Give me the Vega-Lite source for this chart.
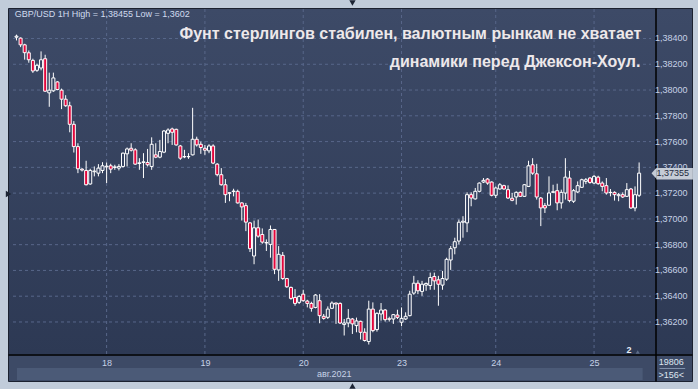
{
  "$schema": "https://vega.github.io/schema/vega-lite/v6.json",
  "width": 684,
  "height": 373,
  "autosize": {"type": "none"},
  "padding": {"left": 8, "top": 8, "right": 6, "bottom": 8},
  "background": "#c1ccda",
  "config": {
    "font": "Liberation Sans",
    "axis": {"labelOverlap": false, "labelFlush": false, "labelBound": false, "grid": false, "ticks": false},
    "view": {
      "stroke": "#1b2130",
      "strokeWidth": 1,
      "fill": {
        "gradient": "linear", "x1": 0, "y1": 0, "x2": 0, "y2": 1,
        "stops": [
          {"offset": 0, "color": "#3d4a67"},
          {"offset": 0.927, "color": "#2d3954"},
          {"offset": 0.928, "color": "#3d4a66"},
          {"offset": 1, "color": "#3d4a66"}
        ]
      }
    }
  },
  "datasets": {
    "bars": [
      {"i":0,"o":1.38410,"h":1.38430,"l":1.38385,"c":1.38418},
      {"i":1,"o":1.38403,"h":1.38408,"l":1.38333,"c":1.38351},
      {"i":2,"o":1.38351,"h":1.38359,"l":1.38236,"c":1.38290},
      {"i":3,"o":1.38289,"h":1.38307,"l":1.38212,"c":1.38235},
      {"i":4,"o":1.38230,"h":1.38243,"l":1.38133,"c":1.38148},
      {"i":5,"o":1.38153,"h":1.38205,"l":1.38141,"c":1.38192},
      {"i":6,"o":1.38171,"h":1.38300,"l":1.38153,"c":1.38235},
      {"i":7,"o":1.38243,"h":1.38274,"l":1.37986,"c":1.37991},
      {"i":8,"o":1.37978,"h":1.38135,"l":1.37870,"c":1.37999},
      {"i":9,"o":1.37994,"h":1.38135,"l":1.37986,"c":1.38094},
      {"i":10,"o":1.38063,"h":1.38068,"l":1.37999,"c":1.38004},
      {"i":11,"o":1.37999,"h":1.38011,"l":1.37852,"c":1.37929},
      {"i":12,"o":1.37929,"h":1.37960,"l":1.37870,"c":1.37878},
      {"i":13,"o":1.37878,"h":1.37909,"l":1.37672,"c":1.37734},
      {"i":14,"o":1.37734,"h":1.37759,"l":1.37515,"c":1.37561},
      {"i":15,"o":1.37561,"h":1.37587,"l":1.37355,"c":1.37389},
      {"i":16,"o":1.37386,"h":1.37394,"l":1.37368,"c":1.37379},
      {"i":17,"o":1.37376,"h":1.37451,"l":1.37260,"c":1.37265},
      {"i":18,"o":1.37271,"h":1.37389,"l":1.37265,"c":1.37376},
      {"i":19,"o":1.37366,"h":1.37407,"l":1.37330,"c":1.37371},
      {"i":20,"o":1.37355,"h":1.37425,"l":1.37330,"c":1.37394},
      {"i":21,"o":1.37376,"h":1.37440,"l":1.37355,"c":1.37412},
      {"i":22,"o":1.37404,"h":1.37438,"l":1.37278,"c":1.37409},
      {"i":23,"o":1.37412,"h":1.37428,"l":1.37355,"c":1.37386},
      {"i":24,"o":1.37399,"h":1.37420,"l":1.37381,"c":1.37404},
      {"i":25,"o":1.37394,"h":1.37425,"l":1.37376,"c":1.37407},
      {"i":26,"o":1.37407,"h":1.37515,"l":1.37399,"c":1.37510},
      {"i":27,"o":1.37505,"h":1.37554,"l":1.37407,"c":1.37543},
      {"i":28,"o":1.37548,"h":1.37587,"l":1.37523,"c":1.37533},
      {"i":29,"o":1.37536,"h":1.37548,"l":1.37420,"c":1.37425},
      {"i":30,"o":1.37430,"h":1.37471,"l":1.37381,"c":1.37435},
      {"i":31,"o":1.37438,"h":1.37510,"l":1.37317,"c":1.37443},
      {"i":32,"o":1.37438,"h":1.37543,"l":1.37407,"c":1.37420},
      {"i":33,"o":1.37407,"h":1.37633,"l":1.37381,"c":1.37579},
      {"i":34,"o":1.37497,"h":1.37587,"l":1.37471,"c":1.37479},
      {"i":35,"o":1.37479,"h":1.37613,"l":1.37471,"c":1.37523},
      {"i":36,"o":1.37518,"h":1.37690,"l":1.37510,"c":1.37682},
      {"i":37,"o":1.37664,"h":1.37703,"l":1.37587,"c":1.37690},
      {"i":38,"o":1.37698,"h":1.37708,"l":1.37574,"c":1.37672},
      {"i":39,"o":1.37695,"h":1.37700,"l":1.37569,"c":1.37574},
      {"i":40,"o":1.37566,"h":1.37574,"l":1.37458,"c":1.37471},
      {"i":41,"o":1.37484,"h":1.37536,"l":1.37471,"c":1.37481},
      {"i":42,"o":1.37484,"h":1.37510,"l":1.37466,"c":1.37482},
      {"i":43,"o":1.37497,"h":1.37862,"l":1.37492,"c":1.37618},
      {"i":44,"o":1.37618,"h":1.37638,"l":1.37561,"c":1.37574},
      {"i":45,"o":1.37579,"h":1.37600,"l":1.37505,"c":1.37554},
      {"i":46,"o":1.37548,"h":1.37574,"l":1.37497,"c":1.37533},
      {"i":47,"o":1.37528,"h":1.37579,"l":1.37510,"c":1.37566},
      {"i":48,"o":1.37566,"h":1.37579,"l":1.37425,"c":1.37433},
      {"i":49,"o":1.37425,"h":1.37433,"l":1.37330,"c":1.37343},
      {"i":50,"o":1.37343,"h":1.37394,"l":1.37258,"c":1.37265},
      {"i":51,"o":1.37265,"h":1.37309,"l":1.37124,"c":1.37188},
      {"i":52,"o":1.37203,"h":1.37206,"l":1.37137,"c":1.37199},
      {"i":53,"o":1.37212,"h":1.37234,"l":1.37175,"c":1.37216},
      {"i":54,"o":1.37214,"h":1.37227,"l":1.37119,"c":1.37124},
      {"i":55,"o":1.37124,"h":1.37129,"l":1.36987,"c":1.37093},
      {"i":56,"o":1.37103,"h":1.37124,"l":1.36905,"c":1.36975},
      {"i":57,"o":1.36969,"h":1.36975,"l":1.36743,"c":1.36769},
      {"i":58,"o":1.36712,"h":1.36987,"l":1.36648,"c":1.36931},
      {"i":59,"o":1.36931,"h":1.36995,"l":1.36854,"c":1.36866},
      {"i":60,"o":1.36879,"h":1.36926,"l":1.36807,"c":1.36820},
      {"i":61,"o":1.36817,"h":1.36841,"l":1.36751,"c":1.36813},
      {"i":62,"o":1.36802,"h":1.36949,"l":1.36699,"c":1.36918},
      {"i":63,"o":1.36918,"h":1.36920,"l":1.36571,"c":1.36609},
      {"i":64,"o":1.36604,"h":1.36789,"l":1.36519,"c":1.36725},
      {"i":65,"o":1.36717,"h":1.36743,"l":1.36527,"c":1.36537},
      {"i":66,"o":1.36537,"h":1.36542,"l":1.36465,"c":1.36473},
      {"i":67,"o":1.36468,"h":1.36475,"l":1.36372,"c":1.36383},
      {"i":68,"o":1.36390,"h":1.36455,"l":1.36326,"c":1.36344},
      {"i":69,"o":1.36352,"h":1.36409,"l":1.36339,"c":1.36398},
      {"i":70,"o":1.36416,"h":1.36450,"l":1.36357,"c":1.36365},
      {"i":71,"o":1.36362,"h":1.36372,"l":1.36313,"c":1.36344},
      {"i":72,"o":1.36344,"h":1.36357,"l":1.36280,"c":1.36306},
      {"i":73,"o":1.36313,"h":1.36416,"l":1.36306,"c":1.36409},
      {"i":74,"o":1.36365,"h":1.36416,"l":1.36190,"c":1.36249},
      {"i":75,"o":1.36244,"h":1.36262,"l":1.36218,"c":1.36228},
      {"i":76,"o":1.36236,"h":1.36321,"l":1.36223,"c":1.36300},
      {"i":77,"o":1.36306,"h":1.36360,"l":1.36300,"c":1.36347},
      {"i":78,"o":1.36347,"h":1.36350,"l":1.36185,"c":1.36339},
      {"i":79,"o":1.36344,"h":1.36352,"l":1.36185,"c":1.36192},
      {"i":80,"o":1.36180,"h":1.36223,"l":1.36095,"c":1.36192},
      {"i":81,"o":1.36192,"h":1.36300,"l":1.36159,"c":1.36228},
      {"i":82,"o":1.36223,"h":1.36231,"l":1.36107,"c":1.36185},
      {"i":83,"o":1.36172,"h":1.36234,"l":1.36120,"c":1.36208},
      {"i":84,"o":1.36205,"h":1.36210,"l":1.36064,"c":1.36120},
      {"i":85,"o":1.36120,"h":1.36151,"l":1.36048,"c":1.36056},
      {"i":86,"o":1.36048,"h":1.36365,"l":1.36025,"c":1.36300},
      {"i":87,"o":1.36300,"h":1.36352,"l":1.36120,"c":1.36133},
      {"i":88,"o":1.36141,"h":1.36275,"l":1.36125,"c":1.36267},
      {"i":89,"o":1.36262,"h":1.36347,"l":1.36210,"c":1.36293},
      {"i":90,"o":1.36293,"h":1.36300,"l":1.36203,"c":1.36218},
      {"i":91,"o":1.36225,"h":1.36241,"l":1.36203,"c":1.36221},
      {"i":92,"o":1.36223,"h":1.36262,"l":1.36185,"c":1.36257},
      {"i":93,"o":1.36254,"h":1.36295,"l":1.36223,"c":1.36236},
      {"i":94,"o":1.36198,"h":1.36313,"l":1.36167,"c":1.36228},
      {"i":95,"o":1.36223,"h":1.36275,"l":1.36216,"c":1.36244},
      {"i":96,"o":1.36249,"h":1.36442,"l":1.36244,"c":1.36416},
      {"i":97,"o":1.36424,"h":1.36558,"l":1.36411,"c":1.36501},
      {"i":98,"o":1.36501,"h":1.36524,"l":1.36416,"c":1.36442},
      {"i":99,"o":1.36437,"h":1.36519,"l":1.36403,"c":1.36493},
      {"i":100,"o":1.36486,"h":1.36506,"l":1.36442,"c":1.36499},
      {"i":101,"o":1.36483,"h":1.36583,"l":1.36450,"c":1.36545},
      {"i":102,"o":1.36553,"h":1.36583,"l":1.36450,"c":1.36519},
      {"i":103,"o":1.36527,"h":1.36558,"l":1.36326,"c":1.36493},
      {"i":104,"o":1.36486,"h":1.36596,"l":1.36450,"c":1.36537},
      {"i":105,"o":1.36532,"h":1.36699,"l":1.36519,"c":1.36686},
      {"i":106,"o":1.36681,"h":1.36789,"l":1.36604,"c":1.36769},
      {"i":107,"o":1.36776,"h":1.36854,"l":1.36725,"c":1.36823},
      {"i":108,"o":1.36828,"h":1.36995,"l":1.36802,"c":1.36974},
      {"i":109,"o":1.36974,"h":1.37021,"l":1.36854,"c":1.36982},
      {"i":110,"o":1.36969,"h":1.37206,"l":1.36897,"c":1.37188},
      {"i":111,"o":1.37188,"h":1.37206,"l":1.37098,"c":1.37162},
      {"i":112,"o":1.37155,"h":1.37240,"l":1.37150,"c":1.37214},
      {"i":113,"o":1.37214,"h":1.37283,"l":1.37206,"c":1.37278},
      {"i":114,"o":1.37286,"h":1.37317,"l":1.37278,"c":1.37299},
      {"i":115,"o":1.37309,"h":1.37317,"l":1.37265,"c":1.37278},
      {"i":116,"o":1.37286,"h":1.37291,"l":1.37175,"c":1.37183},
      {"i":117,"o":1.37183,"h":1.37252,"l":1.37162,"c":1.37240},
      {"i":118,"o":1.37232,"h":1.37278,"l":1.37227,"c":1.37265},
      {"i":119,"o":1.37258,"h":1.37265,"l":1.37227,"c":1.37232},
      {"i":120,"o":1.37227,"h":1.37260,"l":1.37155,"c":1.37162},
      {"i":121,"o":1.37160,"h":1.37201,"l":1.37137,"c":1.37144},
      {"i":122,"o":1.37170,"h":1.37214,"l":1.37111,"c":1.37206},
      {"i":123,"o":1.37206,"h":1.37214,"l":1.37170,"c":1.37175},
      {"i":124,"o":1.37175,"h":1.37270,"l":1.37170,"c":1.37265},
      {"i":125,"o":1.37252,"h":1.37451,"l":1.37247,"c":1.37412},
      {"i":126,"o":1.37420,"h":1.37471,"l":1.37342,"c":1.37355},
      {"i":127,"o":1.37350,"h":1.37427,"l":1.37150,"c":1.37170},
      {"i":128,"o":1.37162,"h":1.37170,"l":1.36944,"c":1.37085},
      {"i":129,"o":1.37103,"h":1.37124,"l":1.37046,"c":1.37085},
      {"i":130,"o":1.37106,"h":1.37330,"l":1.37103,"c":1.37201},
      {"i":131,"o":1.37206,"h":1.37265,"l":1.37201,"c":1.37211},
      {"i":132,"o":1.37219,"h":1.37273,"l":1.37067,"c":1.37124},
      {"i":133,"o":1.37124,"h":1.37227,"l":1.37080,"c":1.37206},
      {"i":134,"o":1.37201,"h":1.37471,"l":1.37150,"c":1.37324},
      {"i":135,"o":1.37317,"h":1.37373,"l":1.37129,"c":1.37142},
      {"i":136,"o":1.37137,"h":1.37232,"l":1.37124,"c":1.37219},
      {"i":137,"o":1.37209,"h":1.37291,"l":1.37201,"c":1.37258},
      {"i":138,"o":1.37245,"h":1.37312,"l":1.37240,"c":1.37304},
      {"i":139,"o":1.37291,"h":1.37317,"l":1.37270,"c":1.37304},
      {"i":140,"o":1.37317,"h":1.37324,"l":1.37273,"c":1.37283},
      {"i":141,"o":1.37278,"h":1.37342,"l":1.37270,"c":1.37330},
      {"i":142,"o":1.37324,"h":1.37335,"l":1.37265,"c":1.37273},
      {"i":143,"o":1.37278,"h":1.37291,"l":1.37214,"c":1.37252},
      {"i":144,"o":1.37258,"h":1.37317,"l":1.37188,"c":1.37201},
      {"i":145,"o":1.37204,"h":1.37232,"l":1.37175,"c":1.37206},
      {"i":146,"o":1.37206,"h":1.37214,"l":1.37142,"c":1.37188},
      {"i":147,"o":1.37180,"h":1.37201,"l":1.37137,"c":1.37188},
      {"i":148,"o":1.37188,"h":1.37206,"l":1.37162,"c":1.37170},
      {"i":149,"o":1.37175,"h":1.37278,"l":1.37170,"c":1.37227},
      {"i":150,"o":1.37232,"h":1.37240,"l":1.37077,"c":1.37085},
      {"i":151,"o":1.37085,"h":1.37252,"l":1.37059,"c":1.37188},
      {"i":152,"o":1.37183,"h":1.37438,"l":1.37170,"c":1.37355}
    ],
    "levels": [
      {"p":1.362,"t":"1,36200"},{"p":1.364,"t":"1,36400"},{"p":1.366,"t":"1,36600"},
      {"p":1.368,"t":"1,36800"},{"p":1.370,"t":"1,37000"},{"p":1.372,"t":"1,37200"},
      {"p":1.374,"t":"1,37400"},{"p":1.376,"t":"1,37600"},{"p":1.378,"t":"1,37800"},
      {"p":1.380,"t":"1,38000"},{"p":1.382,"t":"1,38200"},{"p":1.384,"t":"1,38400"}
    ],
    "days": [
      {"i":22,"d":"18"},{"i":46,"d":"19"},{"i":70,"d":"20"},
      {"i":94,"d":"23"},{"i":117,"d":"24"},{"i":141,"d":"25"}
    ],
    "one": [{}]
  },
  "layer": [
    {
      "data": {"name": "one"},
      "mark": {"type": "rect", "color": "#4b5a77"},
      "encoding": {
        "x": {
          "datum": 0.109, "type": "quantitative",
          "scale": {"domain": [-0.853, 163.69], "nice": false, "zero": false},
          "axis": {
            "orient": "bottom", "offset": -26.5, "values": [22, 46, 70, 94, 117, 141],
            "labelExpr": "datum.value == 22 ? '18' : datum.value == 46 ? '19' : datum.value == 70 ? '20' : datum.value == 94 ? '23' : datum.value == 117 ? '24' : '25'",
            "grid": false, "ticks": false, "domain": true, "domainColor": "#000000", "domainWidth": 1.5,
            "labelColor": "#c6d2e6", "labelFontSize": 9, "labelPadding": 4,
            "labelOverlap": false, "labelFlush": false, "labelBound": false, "title": null, "zindex": 1
          }
        },
        "x2": {"datum": 152.86},
        "y": {
          "datum": 1.358427, "type": "quantitative",
          "scale": {"domain": [1.357419, 1.386367], "nice": false, "zero": false},
          "axis": {
            "orient": "right", "offset": -36.5, "values": [1.362, 1.384],
            "labels": false, "grid": false, "ticks": false, "domain": true,
            "domainColor": "#000000", "domainWidth": 1.5, "title": null
          }
        },
        "y2": {"datum": 1.357497}
      }
    },
    {
      "data": {"name": "levels"},
      "mark": {"type": "rule", "color": "#58678a", "strokeDash": [3, 3], "strokeWidth": 1},
      "encoding": {
        "y": {"field": "p", "type": "quantitative", "scale": {"domain": [1.357419, 1.386367], "nice": false, "zero": false}},
        "x": {"datum": -0.853, "type": "quantitative", "scale": {"domain": [-0.853, 163.69], "nice": false, "zero": false}},
        "x2": {"datum": 154.91}
      }
    },
    {
      "data": {"name": "levels"},
      "mark": {"type": "text", "align": "left", "baseline": "middle", "fontSize": 9, "color": "#c6d2e6"},
      "encoding": {
        "y": {"field": "p", "type": "quantitative", "scale": {"domain": [1.357419, 1.386367], "nice": false, "zero": false}},
        "x": {"datum": 155.87, "type": "quantitative", "scale": {"domain": [-0.853, 163.69], "nice": false, "zero": false}},
        "text": {"field": "t"}
      }
    },
    {
      "data": {"name": "days"},
      "mark": {"type": "rule", "color": "#58678a", "strokeDash": [3, 3], "strokeWidth": 1},
      "encoding": {
        "x": {"field": "i", "type": "quantitative", "scale": {"domain": [-0.853, 163.69], "nice": false, "zero": false}},
        "y": {"datum": 1.359514, "type": "quantitative", "scale": {"domain": [1.357419, 1.386367], "nice": false, "zero": false}},
        "y2": {"datum": 1.386367}
      }
    },
    {
      "data": {"name": "bars"},
      "mark": {"type": "rule", "color": "#ffffff", "strokeWidth": 1},
      "encoding": {
        "x": {"field": "i", "type": "quantitative", "scale": {"domain": [-0.853, 163.69], "nice": false, "zero": false}},
        "y": {"field": "l", "type": "quantitative", "scale": {"domain": [1.357419, 1.386367], "nice": false, "zero": false}},
        "y2": {"field": "h"}
      }
    },
    {
      "data": {"name": "bars"},
      "mark": {"type": "bar", "size": 3, "stroke": "#ffffff", "strokeWidth": 1},
      "encoding": {
        "x": {"field": "i", "type": "quantitative", "scale": {"domain": [-0.853, 163.69], "nice": false, "zero": false}},
        "y": {"field": "o", "type": "quantitative", "scale": {"domain": [1.357419, 1.386367], "nice": false, "zero": false}},
        "y2": {"field": "c"},
        "fill": {"condition": {"test": "datum.c < datum.o", "value": "#e3063c"}, "value": "#344160"}
      }
    },
    {
      "data": {"name": "one"},
      "mark": {"type": "text", "text": "Фунт стерлингов стабилен, валютным рынкам не хватает", "align": "right", "baseline": "middle", "fontSize": 16, "fontWeight": "bold", "color": "#ede8ea"},
      "encoding": {
        "x": {"datum": 152.55, "type": "quantitative", "scale": {"domain": [-0.853, 163.69], "nice": false, "zero": false}},
        "y": {"datum": 1.384326, "type": "quantitative", "scale": {"domain": [1.357419, 1.386367], "nice": false, "zero": false}}
      }
    },
    {
      "data": {"name": "one"},
      "mark": {"type": "text", "text": "динамики перед Джексон-Хоул.", "align": "right", "baseline": "middle", "fontSize": 16, "fontWeight": "bold", "color": "#ede8ea"},
      "encoding": {
        "x": {"datum": 152.3, "type": "quantitative", "scale": {"domain": [-0.853, 163.69], "nice": false, "zero": false}},
        "y": {"datum": 1.382199, "type": "quantitative", "scale": {"domain": [1.357419, 1.386367], "nice": false, "zero": false}}
      }
    },
    {
      "data": {"name": "one"},
      "mark": {"type": "text", "text": "GBP/USD 1H High = 1,38455 Low = 1,3602", "align": "left", "baseline": "middle", "fontSize": 9, "color": "#d0dbee"},
      "encoding": {
        "x": {"datum": -0.45, "type": "quantitative", "scale": {"domain": [-0.853, 163.69], "nice": false, "zero": false}},
        "y": {"datum": 1.385863, "type": "quantitative", "scale": {"domain": [1.357419, 1.386367], "nice": false, "zero": false}}
      }
    },
    {
      "data": {"name": "one"},
      "mark": {"type": "text", "text": "авг.2021", "align": "center", "baseline": "middle", "fontSize": 9, "color": "#c6d2e6"},
      "encoding": {
        "x": {"datum": 77.57, "type": "quantitative", "scale": {"domain": [-0.853, 163.69], "nice": false, "zero": false}},
        "y": {"datum": 1.357962, "type": "quantitative", "scale": {"domain": [1.357419, 1.386367], "nice": false, "zero": false}}
      }
    },
    {
      "data": {"name": "one"},
      "mark": {"type": "text", "text": "19806", "align": "center", "baseline": "middle", "fontSize": 9, "color": "#dfe6f0"},
      "encoding": {
        "x": {"datum": 159.84, "type": "quantitative", "scale": {"domain": [-0.853, 163.69], "nice": false, "zero": false}},
        "y": {"datum": 1.358893, "type": "quantitative", "scale": {"domain": [1.357419, 1.386367], "nice": false, "zero": false}}
      }
    },
    {
      "data": {"name": "one"},
      "mark": {"type": "text", "text": ">156<", "align": "center", "baseline": "middle", "fontSize": 9, "color": "#dfe6f0"},
      "encoding": {
        "x": {"datum": 159.84, "type": "quantitative", "scale": {"domain": [-0.853, 163.69], "nice": false, "zero": false}},
        "y": {"datum": 1.357923, "type": "quantitative", "scale": {"domain": [1.357419, 1.386367], "nice": false, "zero": false}}
      }
    },
    {
      "data": {"name": "one"},
      "mark": {"type": "rule", "color": "#8090aa", "strokeWidth": 1},
      "encoding": {
        "x": {"datum": 157.0, "type": "quantitative", "scale": {"domain": [-0.853, 163.69], "nice": false, "zero": false}},
        "x2": {"datum": 163.25},
        "y": {"datum": 1.358389, "type": "quantitative", "scale": {"domain": [1.357419, 1.386367], "nice": false, "zero": false}}
      }
    },
    {
      "data": {"name": "one"},
      "mark": {"type": "text", "text": "2", "align": "center", "baseline": "middle", "fontSize": 9, "fontWeight": "bold", "color": "#e8eef8"},
      "encoding": {
        "x": {"datum": 149.5, "type": "quantitative", "scale": {"domain": [-0.853, 163.69], "nice": false, "zero": false}},
        "y": {"datum": 1.359863, "type": "quantitative", "scale": {"domain": [1.357419, 1.386367], "nice": false, "zero": false}}
      }
    },
    {
      "data": {"name": "one"},
      "mark": {"type": "point", "shape": "triangle-up", "size": 18, "filled": true, "color": "#5d6c88", "opacity": 1},
      "encoding": {
        "x": {"datum": 151.66, "type": "quantitative", "scale": {"domain": [-0.853, 163.69], "nice": false, "zero": false}},
        "y": {"datum": 1.35967, "type": "quantitative", "scale": {"domain": [1.357419, 1.386367], "nice": false, "zero": false}}
      }
    },
    {
      "data": {"name": "one"},
      "mark": {"type": "rect", "color": "#c5ccd6"},
      "encoding": {
        "x": {"datum": 156.23, "type": "quantitative", "scale": {"domain": [-0.853, 163.69], "nice": false, "zero": false}},
        "x2": {"datum": 165.13},
        "y": {"datum": 1.37395, "type": "quantitative", "scale": {"domain": [1.357419, 1.386367], "nice": false, "zero": false}},
        "y2": {"datum": 1.373057}
      }
    },
    {
      "data": {"name": "one"},
      "mark": {"type": "point", "shape": "M-0.45,0L0.45,-1L0.45,1Z", "size": 132, "filled": true, "color": "#c5ccd6", "opacity": 1},
      "encoding": {
        "x": {"datum": 155.65, "type": "quantitative", "scale": {"domain": [-0.853, 163.69], "nice": false, "zero": false}},
        "y": {"datum": 1.37355, "type": "quantitative", "scale": {"domain": [1.357419, 1.386367], "nice": false, "zero": false}}
      }
    },
    {
      "data": {"name": "one"},
      "mark": {"type": "text", "text": "1,37355", "align": "center", "baseline": "middle", "fontSize": 9, "color": "#1f2a40"},
      "encoding": {
        "x": {"datum": 160.2, "type": "quantitative", "scale": {"domain": [-0.853, 163.69], "nice": false, "zero": false}},
        "y": {"datum": 1.37355, "type": "quantitative", "scale": {"domain": [1.357419, 1.386367], "nice": false, "zero": false}}
      }
    },
    {
      "data": {"name": "one"},
      "mark": {"type": "point", "shape": "triangle-right", "size": 40, "filled": true, "color": "#1c2434", "opacity": 1},
      "encoding": {
        "x": {"datum": -1.936, "type": "quantitative", "scale": {"domain": [-0.853, 163.69], "nice": false, "zero": false}},
        "y": {"datum": 1.371932, "type": "quantitative", "scale": {"domain": [1.357419, 1.386367], "nice": false, "zero": false}}
      }
    },
    {
      "data": {"name": "one"},
      "mark": {"type": "point", "shape": "triangle-down", "size": 40, "filled": true, "color": "#1c2434", "opacity": 1},
      "encoding": {
        "x": {"datum": 82.02, "type": "quantitative", "scale": {"domain": [-0.853, 163.69], "nice": false, "zero": false}},
        "y": {"datum": 1.386755, "type": "quantitative", "scale": {"domain": [1.357419, 1.386367], "nice": false, "zero": false}}
      }
    },
    {
      "data": {"name": "one"},
      "mark": {"type": "point", "shape": "triangle-up", "size": 40, "filled": true, "color": "#1c2434", "opacity": 1},
      "encoding": {
        "x": {"datum": 82.02, "type": "quantitative", "scale": {"domain": [-0.853, 163.69], "nice": false, "zero": false}},
        "y": {"datum": 1.357031, "type": "quantitative", "scale": {"domain": [1.357419, 1.386367], "nice": false, "zero": false}}
      }
    }
  ]
}
